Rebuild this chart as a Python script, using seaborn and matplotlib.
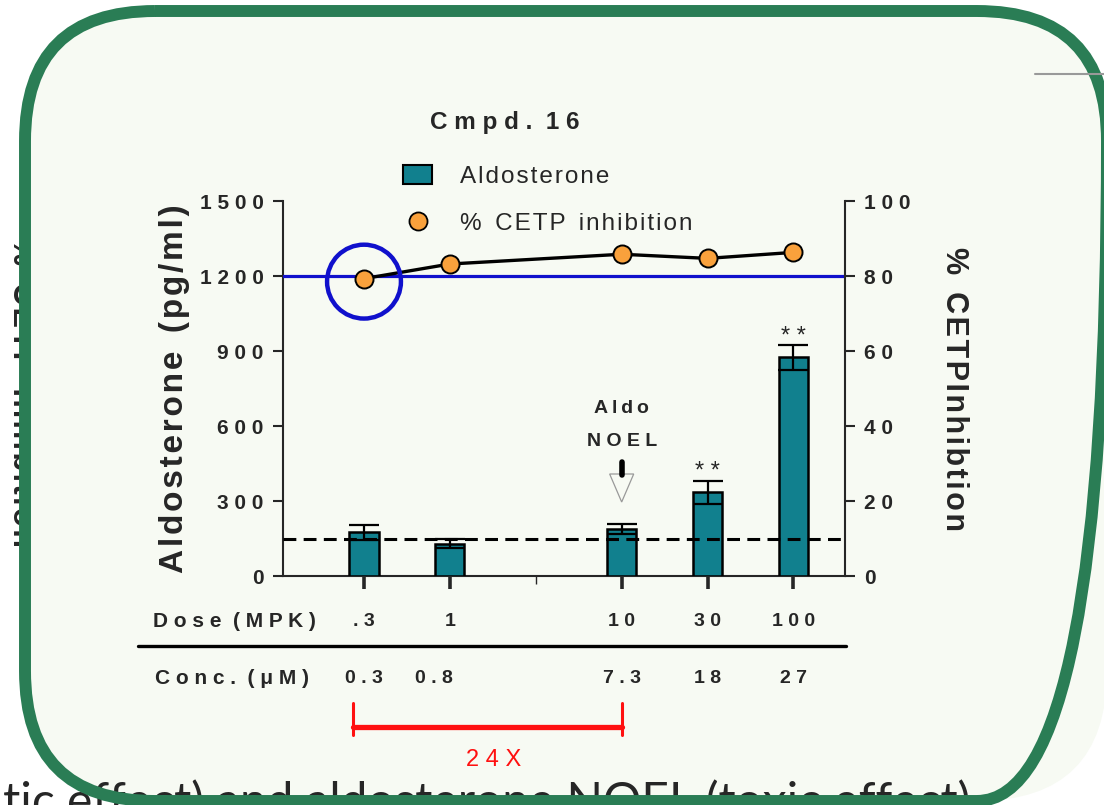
import numpy as np
import pandas as pd
import matplotlib
matplotlib.use("Agg")
import matplotlib.pyplot as plt
import matplotlib.transforms as mtrans
from matplotlib.patches import FancyBboxPatch, Ellipse, Polygon, Patch
from matplotlib.lines import Line2D
import seaborn as sns

# ---------------- data ----------------
dose_order = [".3", "1", "", "10", "30", "100"]      # "" = empty slot on the dose axis
dose_labels = [".3", "1", "10", "30", "100"]
conc_labels = ["0.3", "0.8", "7.3", "18", "27"]
aldo_mean = [175, 130, 190, 335, 875]
aldo_err = [30, 18, 20, 47, 50]
cetp_inhib = [79.3, 83.2, 85.8, 84.7, 86.3]
signif = ["", "", "", "**", "**"]
aldo_baseline = 150
cetp_target = 80
left_ticks = [0, 300, 600, 900, 1200, 1500]
right_ticks = [0, 20, 40, 60, 80, 100]

# ---------------- style ----------------
sns.set_style("ticks")
plt.rcParams["font.family"] = ["Liberation Sans", "DejaVu Sans"]
plt.rcParams["axes.linewidth"] = 1.5

TEAL = "#11808e"
ORANGE = "#f9a13c"
BLUE = "#1010cc"
GREEN = "#2a7d55"
BG = "#f7faf3"
RED = "#ff1010"
HAIR = "\u200a"
THIN = "\u2009"


def sp(s, gap=" "):
    return gap.join(s)


W, H = 1104, 805
fig = plt.figure(figsize=(W / 100, H / 100), dpi=100)
fig.patch.set_facecolor("white")


def fx(x):
    return x / W


def fy(y):
    return 1 - y / H


# ---- background layer: text hidden behind the panel, then the panel fill ----
bg_ax = fig.add_axes([0, 0, 1, 1], zorder=0)
bg_ax.set_xlim(0, W)
bg_ax.set_ylim(H, 0)
bg_ax.axis("off")
bg_ax.text(6, 238, "%  " + sp("CETP", HAIR) + "  " + sp("Inhibition", HAIR),
           rotation=270, ha="left", va="top", fontsize=22, fontweight="bold", zorder=1)
bg_ax.add_patch(FancyBboxPatch((25, 11), 1082, 790, boxstyle="round,pad=0,rounding_size=130",
                               facecolor=BG, edgecolor="none", zorder=2))

# ---- foreground layer: caption under the border, border, grey line ----
fg_ax = fig.add_axes([0, 0, 1, 1], zorder=10)
fg_ax.set_xlim(0, W)
fg_ax.set_ylim(H, 0)
fg_ax.axis("off")
fg_ax.text(970, 817, "therapeutic effect) and aldosterone NOEL (toxic effect)",
           ha="right", va="baseline", fontsize=34.5, family=["Lato", "DejaVu Sans"], zorder=1,
           clip_on=False)
fg_ax.add_patch(FancyBboxPatch((25, 11), 1082, 790, boxstyle="round,pad=0,rounding_size=130",
                               facecolor="none", edgecolor=GREEN, linewidth=8.6, zorder=2,
                               clip_on=False))
fg_ax.plot([1035, 1104], [74, 74], color="#999999", lw=1.5, zorder=3)

# ---------------- chart axes ----------------
ax = fig.add_axes([fx(283), fy(576), fx(845) - fx(283), fy(201) - fy(576)], zorder=4)
ax.set_facecolor("none")

pos = [dose_order.index(d) for d in dose_labels]
df = pd.DataFrame({"pos": pos, "aldo": aldo_mean, "err": aldo_err, "cetp": cetp_inhib})

sns.barplot(data=df, x="pos", y="aldo", native_scale=True, width=0.34, color=TEAL,
            saturation=1, edgecolor="black", linewidth=1.8, errorbar=None, ax=ax, zorder=3)
ax.errorbar(df["pos"], df["aldo"], yerr=df["err"], fmt="none", ecolor="black",
            elinewidth=1.6, capsize=11, capthick=1.6, zorder=4)
ax.axhline(aldo_baseline, color="black", lw=2.2, dashes=(4.2, 2.4), zorder=5)

ax.set_xlim(-0.943, 5.6)
ax.set_ylim(0, 1500)
ax.set_yticks(left_ticks)
ax.set_yticklabels([sp(str(t)) for t in left_ticks], fontweight="bold", fontsize=15)
ax.set_xticks(pos)
ax.set_xticks([dose_order.index("")], minor=True)
ax.tick_params(axis="x", which="major", direction="out", length=9, width=2.6, labelbottom=False)
ax.tick_params(axis="x", which="minor", direction="out", length=6, width=1.0, labelbottom=False)
ax.tick_params(axis="y", direction="out", length=7, width=1.5, pad=7)
ax.spines["top"].set_visible(False)
ax.spines["right"].set_visible(False)
ax.set_xlabel("")
ax.set_ylabel(sp("Aldosterone", HAIR) + "  " + sp("(pg/ml)", HAIR), fontsize=24,
              fontweight="bold", labelpad=7)

for p, m, e, s in zip(pos, aldo_mean, aldo_err, signif):
    if s:
        ax.annotate(sp(s), xy=(p, m + e), xytext=(0, -2), textcoords="offset points",
                    ha="center", va="bottom", fontsize=17)

# Aldo NOEL annotation above the 10 MPK bar
p10 = dose_order.index("10")
ax.text(p10, 672, sp("Aldo", THIN), ha="center", va="center", fontsize=14, fontweight="bold")
ax.text(p10, 540, sp("NOEL"), ha="center", va="center", fontsize=14, fontweight="bold")
ax.plot([p10, p10], [458, 404], color="black", lw=4, solid_capstyle="round", zorder=5)
ax.add_patch(Polygon([[p10 - 0.14, 408], [p10 + 0.14, 408], [p10, 296]], closed=True,
                     facecolor=BG, edgecolor="#999999", lw=0.9, zorder=4))

# ---------------- twin axis ----------------
ax2 = ax.twinx()
ax2.set_ylim(0, 100)
ax2.axhline(cetp_target, color=BLUE, lw=2.3, zorder=2)
sns.lineplot(data=df, x="pos", y="cetp", ax=ax2, color="black", lw=2.4, marker="o",
             markersize=13, markerfacecolor=ORANGE, markeredgecolor="black",
             markeredgewidth=1.4, legend=False, zorder=4)
ax2.add_patch(Ellipse((pos[0], cetp_inhib[0] - 0.8), 0.86, 19.7, facecolor="none",
                      edgecolor=BLUE, lw=3.2, zorder=5, clip_on=False))
ax2.set_yticks(right_ticks)
ax2.set_yticklabels([sp(str(t)) for t in right_ticks], fontweight="bold", fontsize=15)
ax2.tick_params(axis="y", direction="out", length=7, width=1.5, pad=7)
for s in ["left", "top", "bottom"]:
    ax2.spines[s].set_visible(False)
ax2.spines["right"].set_linewidth(1.5)
ax2.set_xlabel("")
ax2.set_ylabel("%  " + sp("CETPInhibtion", HAIR), fontsize=22, fontweight="bold",
               rotation=270, va="bottom", labelpad=20)

# ---------------- legend ----------------
handles = [Patch(facecolor=TEAL, edgecolor="black", lw=1.5),
           Line2D([], [], ls="none", marker="o", markersize=13, markerfacecolor=ORANGE,
                  markeredgecolor="black", markeredgewidth=1.3)]
fig.legend(handles, [sp("Aldosterone", HAIR),
                     "%  " + sp("CETP", HAIR) + "  " + sp("inhibition", HAIR)],
           loc="upper left", bbox_to_anchor=(fx(403), fy(165)), frameon=False,
           fontsize=17.5, handlelength=1.2, handleheight=0.8, handletextpad=1.15,
           labelspacing=1.0, borderpad=0, borderaxespad=0)

# ---------------- title and dose/conc table ----------------
fig.text(fx(505), fy(123), sp("Cmpd.") + "  " + sp("16"), ha="center", va="center",
         fontsize=17.5, fontweight="bold")

bt = mtrans.blended_transform_factory(ax.transData, fig.transFigure)
fig.text(fx(153), fy(621), sp("Dose") + "  " + sp("(MPK)"), ha="left", va="center",
         fontsize=15, fontweight="bold")
fig.text(fx(155), fy(678), sp("Conc.") + "  " + sp("(μM)"), ha="left", va="center",
         fontsize=15, fontweight="bold")
conc_shift = [0, -0.18, 0, 0, 0]
for p, d, c, sh in zip(pos, dose_labels, conc_labels, conc_shift):
    fig.text(p, fy(621), sp(d), transform=bt, ha="center", va="center", fontsize=14,
             fontweight="bold")
    fig.text(p + sh, fy(678), sp(c), transform=bt, ha="center", va="center", fontsize=14,
             fontweight="bold")
fig.add_artist(Line2D([fx(138), fx(846)], [fy(646), fy(646)], color="black", lw=2.4))

# red 24X bracket between 0.3 and 7.3 uM
xl, xr = pos[0] - 0.13, pos[2]
fig.add_artist(Line2D([xl, xl], [fy(703), fy(735)], transform=bt, color=RED, lw=2.2))
fig.add_artist(Line2D([xr, xr], [fy(703), fy(735)], transform=bt, color=RED, lw=2.2))
fig.add_artist(Line2D([xl, xr], [fy(727), fy(727)], transform=bt, color=RED, lw=3.8))
fig.text(fx(494), fy(760), sp("24X"), ha="center", va="center", fontsize=17, color=RED)

fig.savefig("out.png", dpi=100)
